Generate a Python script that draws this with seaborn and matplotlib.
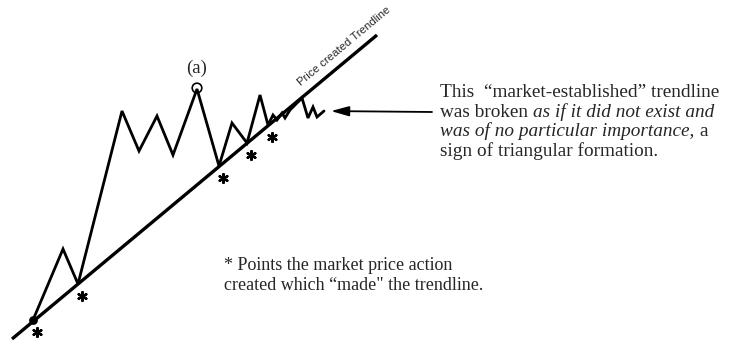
import matplotlib
matplotlib.use("Agg")
import math
import matplotlib.pyplot as plt
import seaborn as sns
import pandas as pd

# Price path: time step and price level of each swing point
price_time = [33, 63, 78, 122, 139, 157, 173, 197, 219, 232, 247, 260, 268,
              273, 277, 282, 285, 290, 302, 308, 313, 317, 324]
price_level = [24, 95, 60, 233, 193, 228, 189, 255, 178, 221, 201, 249, 219,
               229, 224, 231, 226, 234, 246, 226, 237, 227, 233]

# Trendline drawn through the reaction lows
trend_time = [12, 377]
trend_level = [5, 309]

# Swing lows that "made" the trendline, and the marked peak (a)
touch_index = [0, 2, 8, 10, 12]
peak_index = 7

trend_label = "Price created Trendline"
peak_label = "(a)"
note_lines = [
    [("This  \u201cmarket-established\u201d trendline", "normal")],
    [("was broken", "normal"), ("as if it did not exist and", "italic")],
    [("was of no particular importance,", "italic"), ("a", "normal")],
    [("sign of triangular formation.", "normal")],
]
footnote_lines = [
    "* Points the market price action",
    "created which \u201cmade\" the trendline.",
]

sns.set_theme(style="white")
plt.rcParams["font.family"] = ["Liberation Serif", "DejaVu Serif"]

W, H = 731, 344
fig = plt.figure(figsize=(W / 100, H / 100), dpi=100)
ax = fig.add_axes([0, 0, 1, 1])
ax.set_xlim(0, W)
ax.set_ylim(0, H)
ax.axis("off")

price = pd.DataFrame({"time": price_time, "level": price_level})
trend = pd.DataFrame({"time": trend_time, "level": trend_level})

sns.lineplot(data=trend, x="time", y="level", ax=ax, color="black",
             linewidth=2.4, solid_capstyle="butt")
sns.lineplot(data=price, x="time", y="level", ax=ax, color="black",
             linewidth=2.0, sort=False, solid_joinstyle="miter")

# starting point dot
ax.scatter([price_time[0]], [price_level[0]], s=28, color="black", zorder=4)
# circled peak (a)
ax.scatter([price_time[peak_index]], [price_level[peak_index] + 1], s=48,
           facecolors="none", edgecolors="black", linewidths=1.2, zorder=4)
ax.annotate(peak_label, (price_time[peak_index], price_level[peak_index]),
            xytext=(0, 21), textcoords="offset pixels", ha="center",
            va="center", fontsize=13.5)

# asterisk marks just below the touch points
touches = price.iloc[touch_index]
sns.scatterplot(x=touches["time"] + 4, y=touches["level"] - 12, ax=ax,
                marker=(6, 2, 0), s=40, color="black", linewidth=1.7,
                edgecolor="black", zorder=4)

# trendline caption along the line
p0 = ax.transData.transform((trend_time[0], trend_level[0]))
p1 = ax.transData.transform((trend_time[1], trend_level[1]))
angle = math.degrees(math.atan2(p1[1] - p0[1], p1[0] - p0[0]))
slope = (trend_level[1] - trend_level[0]) / (trend_time[1] - trend_time[0])
lx = 352
ly = trend_level[0] + slope * (lx - trend_time[0])
ax.annotate(trend_label, (lx, ly), xytext=(-6, 7), textcoords="offset pixels",
            rotation=angle, rotation_mode="anchor", ha="center",
            va="baseline", fontsize=8.2, family=["Liberation Sans", "DejaVu Sans"])

# arrow pointing at the final zigzag
ax.annotate("", xy=(price_time[-1], price_level[-1]),
            xytext=(108, -1), textcoords="offset pixels",
            arrowprops=dict(arrowstyle="-|>,head_length=0.9,head_width=0.25",
                            mutation_scale=12, color="black", lw=1.3,
                            shrinkA=0, shrinkB=5))

renderer = fig.canvas.get_renderer()
to_data = ax.transData.inverted()


def text_width(s, **kw):
    t = ax.text(0, 0, s, **kw)
    bb = t.get_window_extent(renderer)
    t.remove()
    a = to_data.transform((bb.x0, 0))[0]
    b = to_data.transform((bb.x1, 0))[0]
    return b - a


def draw_runs(x, y, runs, size):
    for k, (s, style) in enumerate(runs):
        kw = dict(fontsize=size, fontstyle=style)
        if k > 0:
            x += text_width("n n", **kw) - text_width("nn", **kw)
        ax.text(x, y, s, ha="left", va="baseline", **kw)
        x += text_width(s, **kw)


note_size = 13.9
for j, runs in enumerate(note_lines):
    draw_runs(440, H - 97 - 19.6 * j, runs, note_size)

for j, line in enumerate(footnote_lines):
    ax.text(224, H - 270 - 20 * j, line, ha="left", va="baseline",
            fontsize=13.0)

fig.savefig("out.png", dpi=100)
